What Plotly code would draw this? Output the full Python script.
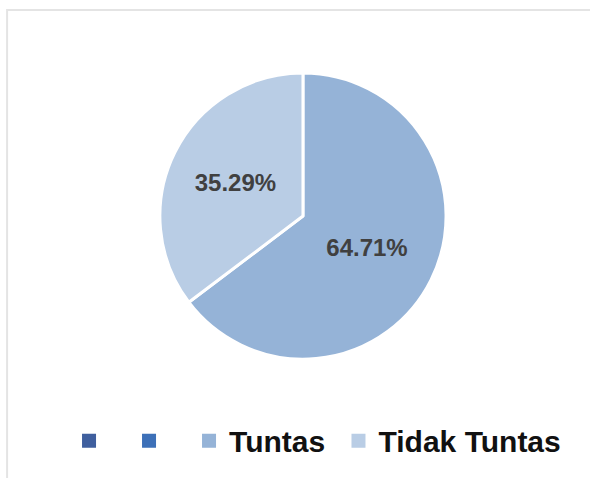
import plotly.graph_objects as go

categories = ["\u2002", "\u2002", "Tuntas", "Tidak Tuntas"]
values = [0, 0, 11, 6]
colors = ["#3F5F9E", "#3D70B8", "#95B3D7", "#B9CDE5"]
legend_names = ["\u2002", "\u2002", "Tuntas\u00a0", "Tidak Tuntas"]

fig = go.Figure()
fig.add_trace(go.Pie(
    labels=categories[2:],
    values=values[2:],
    sort=False,
    direction="clockwise",
    rotation=0,
    marker=dict(colors=colors[2:], line=dict(color="white", width=3)),
    texttemplate="%{percent:.2%}",
    textposition="inside",
    insidetextorientation="horizontal",
    textfont=dict(family="Liberation Sans, Arial", size=24, color="#404040", weight="bold"),
    hoverinfo="label+percent",
    domain=dict(x=[0.271, 0.756], y=[0.247, 0.849]),
    showlegend=False,
))

# legend entries (Excel-style, including two blank series)
for name, col in zip(legend_names, colors):
    fig.add_trace(go.Scatter(
        x=[None], y=[None], mode="markers", name=name,
        marker=dict(symbol="square", size=14, color=col),
        showlegend=True, hoverinfo="skip",
    ))

fig.update_layout(
    width=590, height=478,
    margin=dict(l=0, r=0, t=0, b=0),
    paper_bgcolor="white",
    plot_bgcolor="white",
    xaxis=dict(visible=False),
    yaxis=dict(visible=False),
    legend=dict(
        orientation="h",
        x=0.117, xanchor="left",
        y=0.078, yanchor="middle",
        font=dict(family="Liberation Sans, Arial", size=30, color="#111111", weight="bold"),
        traceorder="normal",
        itemclick=False,
    ),
    shapes=[dict(
        type="rect", xref="paper", yref="paper",
        x0=0.012, x1=1.05, y0=-0.05, y1=0.979,
        line=dict(color="#e4e4e4", width=2),
        fillcolor="rgba(0,0,0,0)",
        layer="below",
    )],
)

fig.write_html("out.html")
